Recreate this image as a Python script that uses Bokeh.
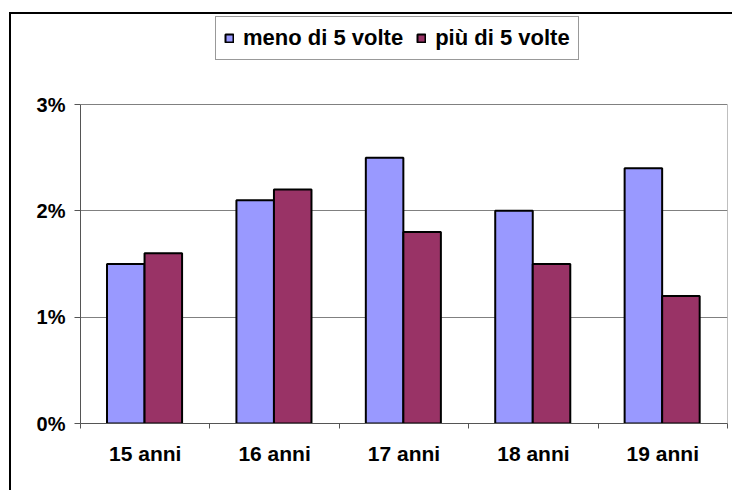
from bokeh.plotting import figure
from bokeh.models import (ColumnDataSource, FactorRange, Range1d, FixedTicker, PrintfTickFormatter,
                          LinearAxis, CategoricalAxis, Legend, LegendItem, Grid)
from bokeh.transform import dodge
from bokeh.embed import file_html
from bokeh.resources import INLINE

# ---- data ----
categories = ["15 anni", "16 anni", "17 anni", "18 anni", "19 anni"]
meno_di_5_volte = [1.5, 2.1, 2.5, 2.0, 2.4]
piu_di_5_volte = [1.6, 2.2, 1.8, 1.5, 1.2]
series_names = ["meno di 5 volte", "più di 5 volte"]
y_ticks = [0, 1, 2, 3]

FONT = "Liberation Sans"
source = ColumnDataSource(dict(cat=categories, meno=meno_di_5_volte, piu=piu_di_5_volte))

# layout (pixels): frame extends above the 3% line to hold the legend
FRAME_TOP, AXIS_TOP, AXIS_BOTTOM = 14, 104, 423
y_top = y_ticks[-1] * (AXIS_BOTTOM - FRAME_TOP) / (AXIS_BOTTOM - AXIS_TOP)

p = figure(width=732, height=490,
           x_range=FactorRange(*categories), y_range=Range1d(y_ticks[0], y_top),
           output_backend="svg", toolbar_location=None, x_axis_location=None,
           min_border_left=80, min_border_right=5, min_border_top=FRAME_TOP, min_border_bottom=67,
           styles={"box-shadow": "inset 9px 12px 0 0 white, inset 11px 14px 0 0 black"})
p.background_fill_color = "white"
p.border_fill_color = None
p.outline_line_color = None

# boundary ticks axis (category separators, synthetic factor coordinates)
bax = LinearAxis(ticker=FixedTicker(ticks=list(range(len(categories) + 1))))
bax.major_tick_in = 0
bax.major_tick_out = 5
bax.minor_tick_line_color = None
bax.major_label_text_font_size = "0px"
bax.major_label_standoff = 0
bax.axis_line_color = "#555555"
bax.major_tick_line_color = "#555555"
p.add_layout(bax, "below")

# category label axis
cax = CategoricalAxis()
cax.axis_line_color = None
cax.major_tick_line_color = None
cax.major_tick_out = 0
cax.major_tick_in = 0
cax.major_label_standoff = 13
cax.major_label_text_font = FONT
cax.major_label_text_font_style = "bold"
cax.major_label_text_font_size = "21px"
cax.major_label_text_color = "black"
p.add_layout(cax, "below")

# y axis
yax = p.yaxis[0]
yax.ticker = FixedTicker(ticks=y_ticks)
yax.bounds = (y_ticks[0], y_ticks[-1])
yax.formatter = PrintfTickFormatter(format="%d%%")
yax.major_tick_in = 0
yax.major_tick_out = 6
yax.minor_tick_line_color = None
yax.axis_line_color = "#555555"
yax.major_tick_line_color = "#555555"
yax.major_label_standoff = 9
yax.major_label_text_font = FONT
yax.major_label_text_font_style = "bold"
yax.major_label_text_font_size = "20px"
yax.major_label_text_color = "black"

for g in p.xgrid:
    g.visible = False
for g in p.ygrid:
    g.ticker = FixedTicker(ticks=y_ticks)
    g.grid_line_color = "#808080"
    g.grid_line_width = 1

# right border of the plot area
right_edge = Grid(dimension=0, ticker=FixedTicker(ticks=[len(categories) - 0.001]),
                  grid_line_color="#808080", grid_line_width=1)
if "cross_bounds" in Grid.properties():
    right_edge.cross_bounds = (y_ticks[0], y_ticks[-1])
p.add_layout(right_edge)

r1 = p.vbar(x=dodge("cat", -0.15, range=p.x_range), top="meno", width=0.29, source=source,
            fill_color="#9999FF", line_color="black", line_width=2)
r2 = p.vbar(x=dodge("cat", 0.14, range=p.x_range), top="piu", width=0.29, source=source,
            fill_color="#993366", line_color="black", line_width=2)

legend = Legend(items=[LegendItem(label=series_names[0], renderers=[r1]),
                       LegendItem(label=series_names[1], renderers=[r2])],
                orientation="horizontal", location=(135, 363))
legend.margin = 0
legend.padding = 8
legend.spacing = 13
legend.glyph_width = 10
legend.glyph_height = 10
legend.label_standoff = 9
legend.label_text_font = FONT
legend.label_text_font_style = "bold"
legend.label_text_font_size = "22px"
legend.label_text_color = "black"
legend.border_line_color = "#333333"
legend.border_line_width = 1
legend.background_fill_color = "white"
legend.background_fill_alpha = 1
p.add_layout(legend)

open("out.html", "w").write(file_html(p, INLINE))
